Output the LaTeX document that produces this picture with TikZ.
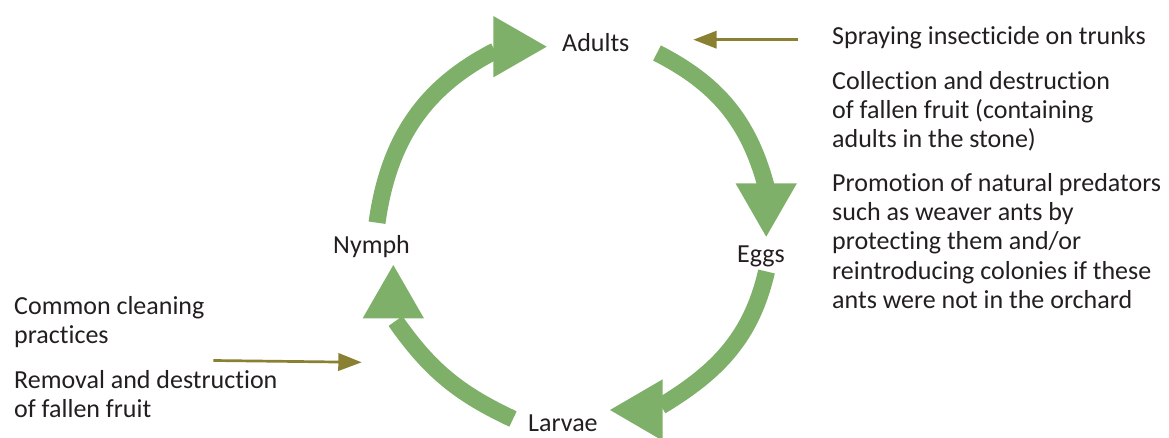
\documentclass[tikz,border=0pt]{standalone}
\usepackage{fontspec}
\setmainfont{Carlito}[Ligatures=NoCommon]
\usetikzlibrary{arrows.meta}
\definecolor{cyclegreen}{HTML}{7FB069}
\definecolor{olivearrow}{HTML}{8A8032}
\definecolor{textgray}{HTML}{231F20}
\begin{document}
\begin{tikzpicture}[x=1pt,y=1pt,
  lbl/.style={font=\fontsize{26}{29.3}\selectfont, text=textgray, inner sep=0pt, anchor=base west},
  note/.style={lbl, align=left},
  cyclearc/.style={draw=cyclegreen, line width=17pt},
  head/.style={fill=cyclegreen},
  pointer/.style={draw=olivearrow, line width=2.7pt, -{Triangle[length=23.4pt,width=17.3pt]}}]
\clip (0,0) rectangle (1169,437);

% stage labels
\node[lbl] (adults) at (562,385.3) {Adults};
\node[lbl] (eggs)   at (737,175)   {Eggs};
\node[lbl] (larvae) at (528,5.3)   {Larvae};
\node[lbl] (nymph)  at (333,184)   {Nymph};

% arc end points and arrow tips
\coordinate (s1) at (377,214.3);
\coordinate (e1) at (495,386);
\coordinate (t1) at (546.7,390.3);
\coordinate (s2) at (657,384);
\coordinate (e2) at (766,251);
\coordinate (t2) at (766.2,200.3);
\coordinate (s3) at (766.5,165.5);
\coordinate (e3) at (661,31);
\coordinate (t3) at (610,27);
\coordinate (s4) at (513,18);
\coordinate (e4) at (395.5,116);
\coordinate (t4) at (393.3,172);

% arcs
\draw[cyclearc] (s1) to[out=82,in=207] (e1);
\draw[cyclearc] (s2) to[out=-27,in=105] (e2);
\draw[cyclearc] (s3) to[out=257,in=31] (e3);
\draw[cyclearc] (s4) to[out=155,in=305] (e4);

% arrow heads
\path[head] (t1) -- ++(-53.4,30.7) -- ++(0,-61.4) -- cycle;
\path[head] (t2) -- ++(-30.7,53.4) -- ++(61.4,0) -- cycle;
\path[head] (t3) -- ++(52.7,30.7) -- ++(0,-61.4) -- cycle;
\path[head] (t4) -- ++(-30.7,-53.4) -- ++(61.4,0) -- cycle;

% right notes (base anchor = baseline of last line)
\node[lbl] (spray) at (832,392) {Spraying insecticide on trunks};
\node[note] (collect) at (832,289.3) {Collection and destruction\\of fallen fruit (containing\\adults in the stone)};
\node[note] (promo) at (832,128.7) {Promotion of natural predators\\such as weaver ants by\\protecting them and/or\\reintroducing colonies if these\\ants were not in the orchard};

% left notes
\node[note] (clean) at (14,93.7) {Common cleaning\\practices};
\node[note] (removal) at (14,19.7) {Removal and destruction\\of fallen fruit};

% pointers
\coordinate (p1s) at (798.3,397.3);
\coordinate (p1e) at (693.3,397.3);
\coordinate (p2s) at (213.3,76.5);
\coordinate (p2e) at (361.7,74.7);
\draw[pointer] (p1s) -- (p1e);
\draw[pointer] (p2s) -- (p2e);
\end{tikzpicture}
\end{document}
